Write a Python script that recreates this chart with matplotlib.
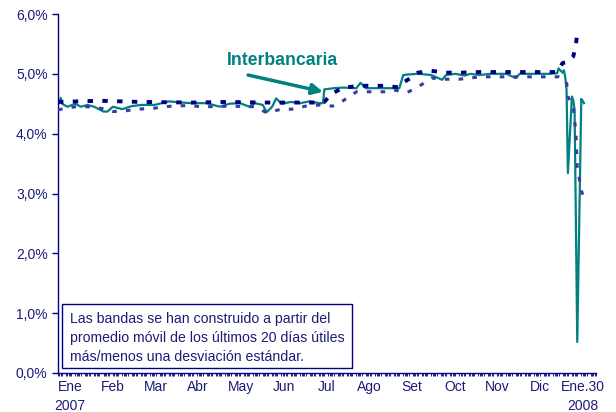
import numpy as np
import pandas as pd
import matplotlib
matplotlib.use("Agg")
import matplotlib.pyplot as plt
import matplotlib.dates as mdates
from matplotlib.patches import Rectangle

plt.rcParams['font.family'] = ['Liberation Sans', 'DejaVu Sans']

# tasa interbancaria (%)
fechas_ib = ["2007-01-02", "2007-01-03", "2007-01-04", "2007-01-05", "2007-01-09", "2007-01-15",
             "2007-01-19", "2007-01-24", "2007-01-29", "2007-02-05", "2007-02-08", "2007-02-12",
             "2007-02-19", "2007-02-26", "2007-03-05", "2007-03-15", "2007-03-26", "2007-04-04",
             "2007-04-12", "2007-04-23", "2007-05-03", "2007-05-10", "2007-05-18", "2007-05-25",
             "2007-05-29", "2007-06-04", "2007-06-07", "2007-06-11", "2007-06-14", "2007-06-18",
             "2007-06-25", "2007-07-02", "2007-07-09", "2007-07-16", "2007-07-19", "2007-07-20",
             "2007-07-27", "2007-08-03", "2007-08-13", "2007-08-16", "2007-08-20", "2007-08-31",
             "2007-09-11", "2007-09-14", "2007-09-17", "2007-09-21", "2007-09-28", "2007-10-08",
             "2007-10-16", "2007-10-19", "2007-10-26", "2007-11-02", "2007-11-06", "2007-11-13",
             "2007-11-21", "2007-12-03", "2007-12-10", "2007-12-13", "2007-12-24", "2008-01-04",
             "2008-01-10", "2008-01-11", "2008-01-14", "2008-01-15", "2008-01-16", "2008-01-17",
             "2008-01-18", "2008-01-21", "2008-01-22", "2008-01-23", "2008-01-25", "2008-01-28",
             "2008-01-29", "2008-01-30"]
tasa_ib = [4.50, 4.51, 4.60, 4.50, 4.45, 4.50,
           4.45, 4.48, 4.45, 4.37, 4.37, 4.45,
           4.41, 4.46, 4.48, 4.48, 4.54, 4.52,
           4.51, 4.51, 4.45, 4.50, 4.51, 4.45,
           4.51, 4.48, 4.36, 4.45, 4.59, 4.50,
           4.53, 4.51, 4.54, 4.51, 4.51, 4.74,
           4.76, 4.77, 4.76, 4.85, 4.76, 4.76,
           4.76, 4.76, 4.98, 4.99, 5.00, 4.98,
           4.90, 4.98, 5.00, 4.97, 5.00, 4.98,
           5.00, 5.00, 4.93, 5.00, 5.00, 5.00,
           5.01, 5.09, 5.02, 5.06, 4.95, 4.73,
           3.34, 4.62, 4.56, 4.40, 0.52, 4.58,
           4.55, 4.51]

# banda superior
fechas_sup = ["2007-01-02", "2007-02-02", "2007-03-05", "2007-04-13", "2007-05-08", "2007-06-08",
              "2007-06-29", "2007-07-17", "2007-07-20", "2007-07-25", "2007-08-03", "2007-08-16",
              "2007-09-03", "2007-09-11", "2007-09-14", "2007-09-18", "2007-09-24", "2007-09-28",
              "2007-10-08", "2007-10-18", "2007-10-30", "2007-11-13", "2007-11-29", "2007-12-21",
              "2008-01-09", "2008-01-11", "2008-01-14", "2008-01-18", "2008-01-22", "2008-01-24",
              "2008-01-25"]
banda_sup = [4.53, 4.55, 4.53, 4.52, 4.53, 4.52,
             4.52, 4.52, 4.53, 4.66, 4.77, 4.80,
             4.80, 4.78, 4.78, 4.87, 4.95, 5.02,
             5.05, 5.02, 5.02, 5.03, 5.03, 5.03,
             5.03, 5.06, 5.18, 5.20, 5.29, 5.47,
             5.72]

# banda inferior
fechas_inf = ["2007-01-02", "2007-01-15", "2007-01-24", "2007-02-04", "2007-02-12", "2007-02-21",
              "2007-03-02", "2007-03-13", "2007-03-23", "2007-04-02", "2007-04-23", "2007-05-10",
              "2007-05-29", "2007-06-07", "2007-06-18", "2007-06-26", "2007-07-06", "2007-07-17",
              "2007-07-26", "2007-08-03", "2007-08-13", "2007-08-22", "2007-09-03", "2007-09-10",
              "2007-09-20", "2007-09-28", "2007-10-08", "2007-10-17", "2007-10-29", "2007-11-05",
              "2007-11-15", "2007-11-29", "2007-12-21", "2008-01-09", "2008-01-11", "2008-01-17",
              "2008-01-18", "2008-01-22", "2008-01-24", "2008-01-25", "2008-01-28", "2008-01-30"]
banda_inf = [4.40, 4.45, 4.45, 4.42, 4.37, 4.38,
             4.41, 4.42, 4.45, 4.47, 4.45, 4.46,
             4.45, 4.35, 4.41, 4.41, 4.46, 4.48,
             4.46, 4.55, 4.70, 4.70, 4.70, 4.73,
             4.69, 4.78, 4.93, 4.91, 4.91, 4.93,
             4.95, 4.95, 4.95, 4.95, 4.95, 4.87,
             4.62, 4.45, 4.01, 3.45, 3.05, 2.93]

meses = ["Ene", "Feb", "Mar", "Abr", "May", "Jun", "Jul", "Ago", "Set", "Oct", "Nov", "Dic", "Ene.30"]
anios = ["2007", "2008"]
nota = ["Las bandas se han construido a partir del",
        "promedio m\u00f3vil de los \u00faltimos 20 d\u00edas \u00fatiles",
        "m\u00e1s/menos una desviaci\u00f3n est\u00e1ndar."]

teal = "#008080"
navy = "#000080"
txt = "#1c1c78"

fig = plt.figure(figsize=(6.16, 4.12), dpi=100)
ax = fig.add_axes([58/616, 39/412, 538/616, 359/412])

ax.plot(pd.to_datetime(fechas_ib), tasa_ib, color=teal, lw=1.6, zorder=2)
ax.plot(pd.to_datetime(fechas_sup), banda_sup, color=navy, lw=2.8,
        dashes=(1.4, 2.4), zorder=3)
ax.plot(pd.to_datetime(fechas_inf), banda_inf, color="#3a3aa0", lw=2.2,
        dashes=(1.5, 3.0), zorder=3)

ax.set_xlim(pd.Timestamp("2007-01-02"), pd.Timestamp("2008-02-08"))
ax.set_ylim(0, 6)
ax.set_yticks(np.arange(0, 7, 1))
ax.set_yticklabels([f"{v:.1f}%".replace(".", ",") for v in range(7)])
ax.tick_params(axis='y', colors=navy, labelcolor=txt, labelsize=10, length=4, width=1, direction='out')

ax.set_xticks([])
ax.xaxis.set_minor_locator(mdates.WeekdayLocator(byweekday=range(5)))
ax.tick_params(axis='x', which='minor', colors=navy, length=2.5, width=0.6, direction='out')

for s in ["top", "right"]:
    ax.spines[s].set_visible(False)
for s in ["left", "bottom"]:
    ax.spines[s].set_color(navy)
    ax.spines[s].set_linewidth(1)

pos = np.linspace(12/538, 525/538, len(meses))
for p, m in zip(pos, meses):
    ax.text(p, -0.039, m, transform=ax.transAxes, ha='center', va='center',
            fontsize=10, color=txt)
ax.text(pos[0], -0.092, anios[0], transform=ax.transAxes, ha='center', va='center',
        fontsize=10, color=txt)
ax.text(pos[-1], -0.092, anios[1], transform=ax.transAxes, ha='center', va='center',
        fontsize=10, color=txt)

# etiqueta y flecha
ax.text(pd.Timestamp("2007-06-19"), 5.23, "Interbancaria", color=teal, fontsize=12.7,
        fontweight='bold', ha='center', va='center')
ax.annotate("", xy=(pd.Timestamp("2007-07-19"), 4.70), xytext=(pd.Timestamp("2007-05-24"), 4.98),
            arrowprops=dict(arrowstyle='-|>', color=teal, lw=2.5, mutation_scale=16,
                            shrinkA=0, shrinkB=0))

# recuadro de nota
ax.add_patch(Rectangle((4/538, 5/359), 290/538, 64/359, transform=ax.transAxes,
                       facecolor='white', edgecolor=navy, lw=1, zorder=4))
for i, linea in enumerate(nota):
    ax.text(12/538, (54 - 19*i)/359, linea, transform=ax.transAxes, ha='left', va='center',
            fontsize=10.2, color=txt, zorder=5)

fig.savefig("out.png", dpi=100)
